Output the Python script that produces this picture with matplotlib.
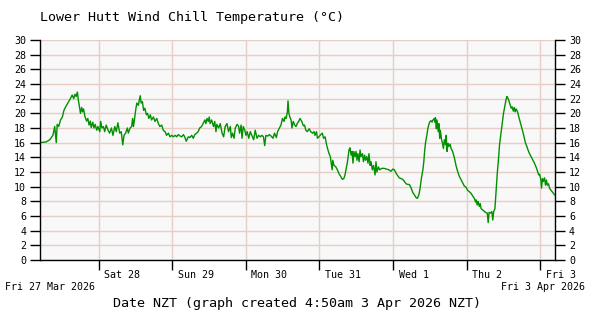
import matplotlib
matplotlib.use('Agg')
import matplotlib.pyplot as plt
from matplotlib.transforms import ScaledTranslation

plt.rcParams['font.family'] = ['DejaVu Sans Mono', 'DejaVu Sans']

# hours since 4:50am Fri 27 Mar 2026 NZT, wind chill in deg C
hours = [
    0.0, 2.0, 3.2, 4.2, 4.8, 5.3, 5.6, 6.1, 6.7, 7.3, 7.8, 8.4, 9.1, 9.9, 10.5,
    11.0, 11.4, 11.8, 12.2, 12.5, 12.8, 13.2, 13.6, 13.9, 14.2, 14.7, 15.2, 15.6,
    16.0, 16.4, 16.7, 17.2, 17.6, 18.0, 18.5, 18.9, 19.5, 19.8, 20.2, 20.7, 21.1,
    21.6, 22.2, 22.7, 23.3, 23.8, 24.4, 24.9, 25.4, 26.0, 26.5, 27.0, 27.4, 27.9,
    28.5, 28.8, 29.4, 29.9, 30.2, 30.5, 31.0, 31.3, 31.6, 32.1, 32.4, 32.7, 33.0,
    33.4, 33.8, 34.2, 34.7, 35.1, 35.5, 36.0, 36.4, 37.0, 37.5, 38.1, 38.6, 39.1,
    39.7, 40.2, 40.8, 41.3, 41.9, 42.4, 43.0, 43.5, 44.1, 44.6, 45.1, 45.7, 46.2,
    46.8, 47.3, 47.7, 48.4, 48.9, 49.5, 50.0, 50.5, 51.1, 51.6, 52.1, 52.7, 53.2,
    53.8, 54.1, 54.5, 54.9, 55.2, 55.5, 56.0, 56.6, 57.0, 57.4, 57.7, 58.3, 58.8,
    59.4, 59.9, 60.4, 61.0, 61.5, 62.1, 62.4, 62.8, 63.3, 63.7, 64.3, 64.8, 65.1,
    65.6, 65.9, 66.3, 66.8, 67.2, 67.6, 68.1, 68.6, 69.1, 69.7, 70.2, 70.8, 71.3,
    71.9, 72.4, 72.9, 73.3, 73.7, 74.3, 74.8, 75.4, 76.0, 76.5, 77.1, 77.5, 78.1,
    78.6, 79.1, 79.6, 79.9, 80.3, 80.7, 80.9, 81.2, 81.5, 81.9, 82.2, 82.6, 83.1,
    83.5, 83.9, 84.4, 84.8, 85.4, 85.9, 86.3, 86.7, 87.2, 87.8, 88.3, 88.9, 89.4,
    89.7, 90.2, 90.5, 91.0, 91.6, 92.1, 92.5, 93.0, 93.4, 93.8, 94.3, 94.7, 95.0,
    95.3, 95.5, 95.9, 96.5, 97.0, 97.5, 98.1, 98.6, 99.1, 99.5, 99.9, 100.3,
    100.6, 100.8, 101.1, 101.5, 101.8, 102.1, 102.4, 102.8, 103.1, 103.4, 103.7,
    104.1, 104.4, 104.7, 105.2, 105.5, 105.9, 106.2, 106.6, 107.0, 107.3, 107.7,
    108.0, 108.4, 108.8, 109.3, 109.6, 109.9, 110.4, 110.8, 111.5, 112.2, 113.0,
    113.8, 114.5, 115.1, 115.6, 116.2, 116.7, 117.2, 117.8, 118.3, 118.9, 119.4,
    120.0, 120.5, 121.1, 121.6, 122.1, 122.7, 123.1, 123.6, 124.0, 124.4, 124.9,
    125.2, 125.5, 125.8, 126.2, 126.5, 126.8, 127.1, 127.5, 127.9, 128.2, 128.6,
    128.8, 129.0, 129.3, 129.5, 129.9, 130.1, 130.4, 130.6, 131.0, 131.3, 131.6,
    131.9, 132.3, 132.5, 132.8, 133.1, 133.4, 133.8, 134.1, 134.6, 135.2, 135.7,
    136.3, 136.8, 137.4, 137.9, 138.4, 139.0, 139.5, 140.1, 140.6, 141.2, 141.7,
    142.1, 142.3, 142.6, 142.9, 143.3, 143.6, 143.9, 144.5, 145.0, 145.5, 145.9,
    146.2, 146.5, 147.0, 147.4, 147.7, 148.0, 148.4, 148.6, 148.9, 149.2, 149.6,
    149.9, 150.3, 150.8, 151.2, 151.6, 152.0, 152.3, 152.6, 152.9, 153.4, 153.7,
    154.0, 154.4, 154.7, 155.0, 155.3, 155.8, 156.2, 156.6, 157.1, 157.5, 157.9,
    158.4, 158.8, 159.2, 159.7, 160.2, 160.8, 161.3, 161.9, 162.4, 162.7, 163.0,
    163.4, 163.6, 163.9, 164.2, 164.6, 164.9, 165.2, 165.5, 165.9, 166.2, 166.7,
    167.3, 167.8,
]
chill = [
    16.0, 16.1, 16.4, 17.0, 18.2, 16.0, 18.5, 18.2, 19.1, 19.5, 20.4, 20.9, 21.4, 22.0, 22.5,
    22.0, 22.6, 22.3, 22.9, 21.8, 21.1, 20.0, 20.8, 20.2, 20.6, 19.5, 18.95, 19.3,
    18.4, 18.95, 18.05, 18.8, 18.0, 18.5, 17.7, 18.2, 17.5, 18.9, 18.0, 18.2, 17.5,
    18.4, 17.7, 17.3, 18.0, 17.0, 18.2, 17.5, 18.7, 17.3, 17.5, 15.7, 17.0, 17.3,
    18.0, 17.3, 18.0, 18.2, 19.3, 18.2, 19.8, 20.7, 21.4, 21.1, 21.8, 22.4, 21.4,
    21.6, 20.4, 20.7, 19.8, 20.0, 19.3, 19.8, 19.1, 19.5, 18.9, 19.3, 18.6, 18.2,
    18.4, 17.7, 17.5, 17.0, 17.3, 16.8, 17.0, 16.8, 17.0, 16.8, 17.1, 16.9, 16.8,
    17.1, 16.7, 16.2, 16.8, 16.7, 17.0, 16.6, 17.1, 17.3, 17.5, 18.0, 18.2, 18.6,
    19.1, 18.6, 19.3, 18.9, 19.5, 18.6, 19.1, 18.2, 18.9, 17.5, 18.5, 18.0, 18.6,
    17.3, 16.8, 18.2, 18.6, 17.5, 18.2, 16.7, 17.3, 16.6, 18.0, 18.5, 18.2, 17.3,
    18.4, 16.6, 18.2, 17.7, 17.0, 17.5, 16.6, 17.5, 17.0, 16.4, 17.7, 16.6, 17.0,
    16.8, 17.0, 16.8, 15.6, 17.0, 16.9, 17.1, 16.9, 16.6, 17.3, 16.7, 17.5, 18.0,
    18.4, 19.3, 18.9, 19.5, 19.3, 20.2, 21.7, 20.0, 19.5, 19.1, 18.0, 18.9, 18.4,
    18.2, 18.6, 18.9, 19.3, 18.9, 18.3, 18.4, 17.7, 17.5, 17.9, 17.5, 17.3, 17.5,
    17.0, 17.5, 16.6, 16.8, 17.1, 17.3, 16.6, 16.8, 15.9, 15.2, 14.5, 14.1, 13.2,
    12.3, 13.6, 12.9, 12.7, 12.3, 11.8, 11.4, 11.0, 11.1, 11.6, 12.5, 13.4,
    14.3, 15.0, 15.3, 14.3, 14.8, 13.2, 14.8, 14.1, 14.8, 13.6, 14.5,
    13.4, 15.0, 14.1, 14.5, 13.4, 14.3, 13.6, 14.1, 13.2, 14.5, 12.9,
    13.4, 12.3, 12.9, 11.6, 13.4, 12.0, 12.7, 12.3, 12.5, 12.5, 12.4,
    12.3, 12.1, 12.4, 12.3, 11.8, 11.5, 11.2, 11.1, 11.0, 10.7, 10.4,
    10.3, 10.3, 9.8, 9.2, 8.9, 8.5, 8.4, 8.9, 9.8, 11.1, 12.3,
    13.4, 15.0, 16.1, 17.0, 17.9, 18.4, 18.8, 19.0, 18.8, 19.1, 19.3,
    18.8, 19.4, 17.9, 19.1, 17.5, 18.6, 16.6, 17.7, 16.4, 15.9, 15.2,
    16.4, 15.7, 17.0, 14.8, 15.9, 15.5, 15.8, 15.2, 14.8, 13.9, 12.9,
    12.0, 11.4, 10.9, 10.5, 10.1, 9.9, 9.5, 9.3, 9.1, 8.7, 8.4,
    7.9, 8.2, 7.5, 8.0, 7.3, 7.7, 7.0, 6.8, 6.6, 6.45, 6.4,
    5.1, 6.5, 6.4, 6.6, 5.45, 6.6, 7.0, 8.2, 10.2, 12.0, 13.9,
    15.7, 17.0, 18.6, 20.0, 20.9, 21.8, 22.3, 22.1, 21.8, 21.1, 20.7,
    20.9, 20.3, 20.8, 20.2, 20.6, 20.2, 19.5, 18.9, 18.2, 17.5, 16.8,
    15.9, 15.5, 15.0, 14.5, 14.1, 13.6, 13.2, 12.6, 12.0, 11.6, 11.7,
    10.9, 9.8, 11.1, 10.7, 11.2, 10.2, 10.9, 10.2, 10.4, 9.8, 9.5,
    9.2, 8.9,
]

# midnights (hours after start) and their labels
day_hours = [19.167, 43.167, 67.167, 91.167, 115.167, 139.167, 163.167]
day_labels = ['Sat 28', 'Sun 29', 'Mon 30', 'Tue 31', 'Wed 1', 'Thu 2', 'Fri 3']
y_ticks = list(range(0, 31, 2))

fig = plt.figure(figsize=(6, 3.2), dpi=100)
ax = fig.add_axes([40/600, 60/320, 515/600, 220/320])
ax.set_facecolor('#f8f8f8')

ax.plot(hours, chill, color='#009000', lw=1.0)

ax.set_xlim(0, 168)
ax.set_ylim(0, 30)
ax.set_yticks(y_ticks)
ax.set_xticks(day_hours)
ax.set_xticklabels(day_labels)
ax.grid(True, color='#e6cec4', lw=1.0)
ax.set_axisbelow(True)

ax.spines['top'].set_visible(False)
for s in ['left', 'right', 'bottom']:
    ax.spines[s].set_linewidth(1.0)

ax.tick_params(axis='y', direction='out', length=7, width=1, pad=3,
               labelsize=7.2, right=True, labelright=True)
ax.tick_params(axis='x', direction='out', length=7, width=1, pad=0,
               labelsize=7.2)
for lab in ax.get_xticklabels():
    lab.set_horizontalalignment('left')
    lab.set_transform(lab.get_transform() + ScaledTranslation(4/72, 0, fig.dpi_scale_trans))

fig.text(40/600, 1 - 18/320, 'Lower Hutt Wind Chill Temperature (°C)',
         ha='left', va='center', fontsize=9.6)
fig.text(5/600, 1 - 287/320, 'Fri 27 Mar 2026', ha='left', va='center', fontsize=7.2)
fig.text(585/600, 1 - 287/320, 'Fri 3 Apr 2026', ha='right', va='center', fontsize=7.2)
fig.text(297/600, 1 - 303/320, 'Date NZT (graph created 4:50am 3 Apr 2026 NZT)',
         ha='center', va='center', fontsize=9.6)

fig.savefig('out.png', dpi=100)
